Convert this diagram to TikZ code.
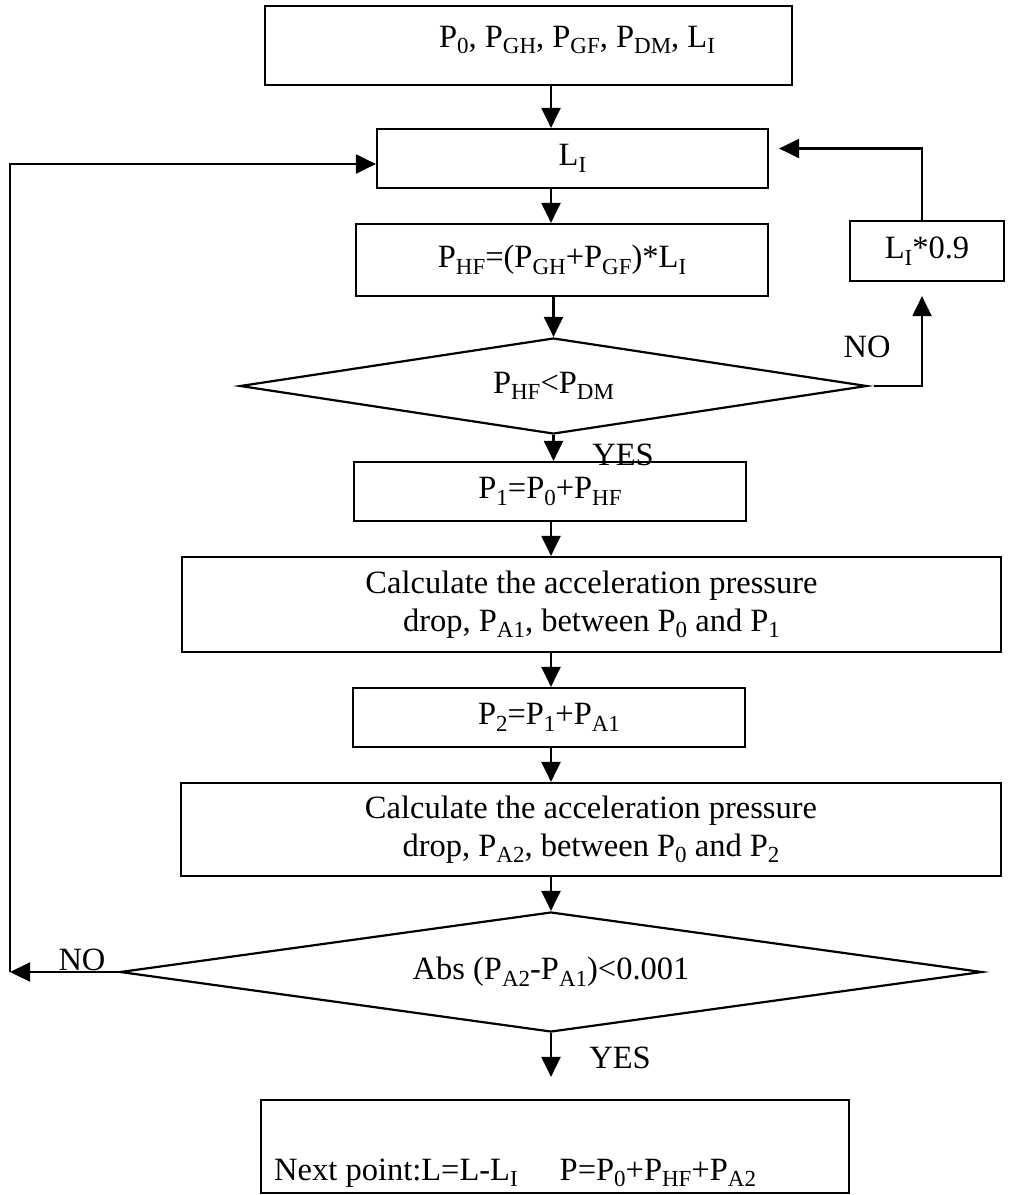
\documentclass[tikz,border=0pt]{standalone}
\usepackage{fontspec}
\setmainfont{Liberation Serif}
\usetikzlibrary{shapes.geometric,arrows.meta,calc}
\newcommand{\sbs}[1]{\raisebox{-0.2em}{\fontsize{23}{23}\selectfont #1}}
\begin{document}
\begin{tikzpicture}[x=1pt,y=-1pt,
  every node/.style={font=\fontsize{32.5}{38}\selectfont},
  box/.style={draw,line width=2.2pt,inner sep=0pt,align=center},
  dia/.style={draw,diamond,line width=2.2pt,inner sep=0pt},
  arr/.style={line width=2.2pt,-{Triangle[length=20pt,width=19pt]}},
  lbl/.style={inner sep=0pt}]
\useasboundingbox (0,0) rectangle (1013,1195);
\coordinate (ax) at (551,0);
\coordinate (lx) at (10,0);
\coordinate (rx) at (922,0);

\node[box,minimum width=527pt,minimum height=79pt] (top) at (528.5,45.5) {};
\node[lbl] (toptxt) at (577,40) {P\sbs{0}, P\sbs{GH}, P\sbs{GF}, P\sbs{DM}, L\sbs{I}};
\node[box,minimum width=391pt,minimum height=59pt] (li) at (572.5,158.5) {L\sbs{I}};
\node[box,minimum width=412pt,minimum height=72pt] (phf) at (562,260) {P\sbs{HF}=(P\sbs{GH}+P\sbs{GF})*L\sbs{I}};
\node[box,minimum width=154pt,minimum height=60pt] (lin) at (927,251) {L\sbs{I}*0.9};
\node[dia,minimum width=627pt,minimum height=96pt,aspect=6.5] (d1) at (553.5,386) {P\sbs{HF}<P\sbs{DM}};
\node[box,minimum width=392pt,minimum height=59pt] (p1) at (550,491.5) {P\sbs{1}=P\sbs{0}+P\sbs{HF}};
\node[box,minimum width=819pt,minimum height=95pt] (c1) at (591.5,604.5) {Calculate the acceleration pressure\\drop, P\sbs{A1}, between P\sbs{0} and P\sbs{1}};
\node[box,minimum width=392pt,minimum height=59pt] (p2) at (549,717.5) {P\sbs{2}=P\sbs{1}+P\sbs{A1}};
\node[box,minimum width=820pt,minimum height=93pt] (c2) at (591,829.5) {Calculate the acceleration pressure\\drop, P\sbs{A2}, between P\sbs{0} and P\sbs{2}};
\node[dia,minimum width=862pt,minimum height=120pt,aspect=7] (d2) at (551,972) {Abs (P\sbs{A2}-P\sbs{A1})<0.001};
\node[box,minimum width=588pt,minimum height=93pt] (bot) at (555,1146.5) {};
\node[lbl,anchor=base west] (bottxt) at (274,1180) {Next point:L=L-L\sbs{I}\hspace{42pt}P=P\sbs{0}+P\sbs{HF}+P\sbs{A2}};

\node[lbl] (yes1) at (623,455) {YES};
\node[lbl] (no1) at (867,347) {NO};
\node[lbl] (no2) at (82,960) {NO};
\node[lbl] (yes2) at (620,1058) {YES};

\draw[arr] (top.south -| ax) -- (li.north -| ax);
\draw[arr] (li.south -| ax) -- (phf.north -| ax);
\draw[arr] (phf.south -| d1.north) -- (d1.north);
\draw[arr] (d1.south) -- (p1.north -| d1.south);
\draw[arr] (p1.south -| ax) -- (c1.north -| ax);
\draw[arr] (c1.south -| ax) -- (p2.north -| ax);
\draw[arr] (p2.south -| ax) -- (c2.north -| ax);
\draw[arr] (c2.south -| d2.north) -- (d2.north);
\draw[arr,shorten >=22pt] (d2.south) -- (bot.north -| d2.south);
\draw[arr] (d2.west) -- (d2.west -| lx);
\draw[arr] (d2.west -| lx) |- ([yshift=-5.5pt]li.west);
\draw[arr,shorten >=14pt] ([xshift=6pt]d1.east) -| (lin.south -| rx);
\draw[arr,shorten >=10pt] (lin.north -| rx) |- ([yshift=10pt]li.east);
\end{tikzpicture}
\end{document}
